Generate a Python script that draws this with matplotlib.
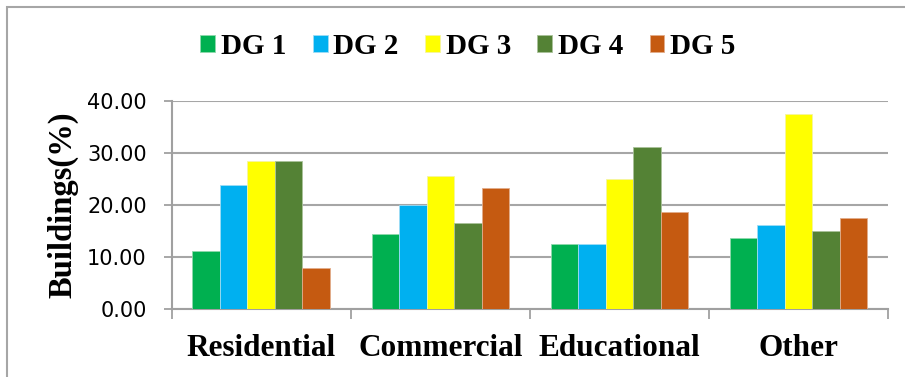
import matplotlib
matplotlib.use('Agg')
import matplotlib.pyplot as plt
import numpy as np
from matplotlib.patches import Rectangle

# data
categories = ['Residential', 'Commercial', 'Educational', 'Other']
series_names = ['DG 1', 'DG 2', 'DG 3', 'DG 4', 'DG 5']
dg1 = [11.1, 14.4, 12.5, 13.7]
dg2 = [23.8, 20.0, 12.5, 16.2]
dg3 = [28.5, 25.5, 25.0, 37.5]
dg4 = [28.5, 16.6, 31.2, 15.0]
dg5 = [7.9, 23.3, 18.7, 17.5]
y_ticks = [0, 10, 20, 30, 40]

colors = ['#00B050', '#00B0F0', '#FFFF00', '#548235', '#C55A11']
edges = ['#8fd9ac', '#9fdcf5', '#f5f5a0', '#a9c29a', '#e2ad8b']

fig = plt.figure(figsize=(9.05, 3.77), dpi=100)
ax = fig.add_axes([0.1897, 0.1804, 0.9812 - 0.1897, 0.7329 - 0.1804])

# outer chart frame (right/bottom edges run off the image)
fig.patches.append(Rectangle((7 / 905, -0.1), 1.2, 1.1 - 7 / 377,
                             transform=fig.transFigure, fill=False,
                             edgecolor='#a6a6a6', linewidth=1.5))

x = np.arange(len(categories))
n = len(series_names)
group = 0.768
w = group / n
all_series = [dg1, dg2, dg3, dg4, dg5]
for i, vals in enumerate(all_series):
    ax.bar(x - group / 2 + w * (i + 0.5), vals, width=w, color=colors[i],
           edgecolor=edges[i], linewidth=0.6, label=series_names[i], zorder=3)

ax.set_xlim(-0.5, len(categories) - 0.5)
ax.set_ylim(0, 40)
ax.set_yticks(y_ticks)
ax.set_yticklabels(['%.2f' % v for v in y_ticks], fontsize=15,
                   family='DejaVu Sans')
ax.grid(axis='y', color='#a6a6a6', linewidth=1.5, zorder=0)
ax.set_axisbelow(True)

ax.set_xticks(x)
ax.set_xticklabels(categories, fontsize=22.5, fontweight='bold',
                   family='Liberation Serif')
ax.set_xticks(np.arange(len(categories) + 1) - 0.5, minor=True)
ax.tick_params(axis='x', which='major', length=0, pad=18)
ax.tick_params(axis='x', which='minor', length=7, width=1.3, color='#a0a0a0')
ax.tick_params(axis='y', length=6, width=1.3, color='#a0a0a0', pad=12)

for s in ['top', 'right']:
    ax.spines[s].set_visible(False)
for s in ['left', 'bottom']:
    ax.spines[s].set_color('#a0a0a0')
    ax.spines[s].set_linewidth(1.5)

ax.set_ylabel('Buildings(%)', fontsize=23.5, fontweight='bold',
              family='Liberation Serif', labelpad=6)

fig.legend(loc='center', bbox_to_anchor=(468 / 905, 1 - 46 / 377), ncol=5,
           frameon=False, prop={'family': 'Liberation Serif', 'weight': 'bold',
                                'size': 21},
           handlelength=0.51, handleheight=0.51, handletextpad=0.2,
           columnspacing=0.9)

fig.savefig('out.png', dpi=100)
